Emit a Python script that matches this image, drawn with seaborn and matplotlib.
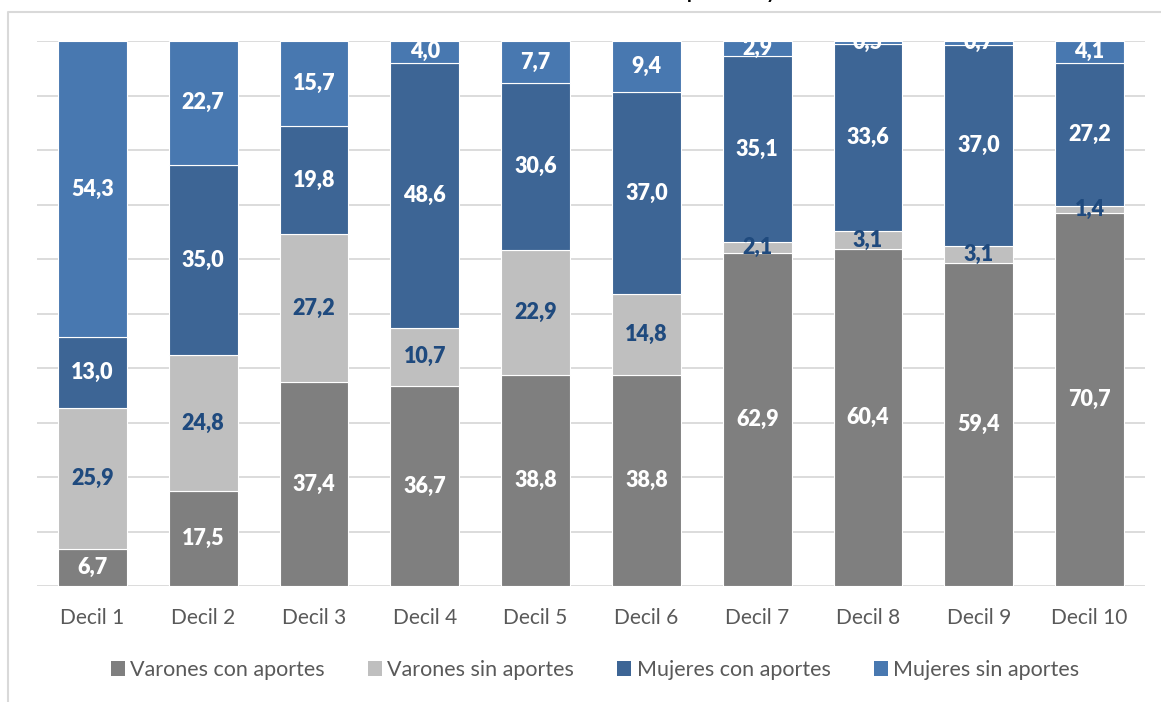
import pandas as pd
import matplotlib.pyplot as plt
import seaborn as sns
from matplotlib.patches import Patch
from matplotlib.lines import Line2D

# === Data ===
deciles = [f"Decil {i}" for i in range(1, 11)]
varones_con = [6.7, 17.5, 37.4, 36.7, 38.8, 38.8, 62.9, 60.4, 59.4, 70.7]
varones_sin = [25.9, 24.8, 27.2, 10.7, 22.9, 14.8, 2.1, 3.1, 3.1, 1.4]
mujeres_con = [13.0, 35.0, 19.8, 48.6, 30.6, 37.0, 35.1, 33.6, 37.0, 27.2]
mujeres_sin = [54.3, 22.7, 15.7, 4.0, 7.7, 9.4, 2.9, 0.5, 0.7, 4.1]

series_names = ["Varones con aportes", "Varones sin aportes",
                "Mujeres con aportes", "Mujeres sin aportes"]
colors = ["#7f7f7f", "#bfbfbf", "#3d6595", "#4878b0"]
label_colors = ["white", "#1f4a7e", "white", "white"]
title = "Distribución de asalariados en cada decil por sexo y condición"

df = pd.DataFrame({"decil": deciles,
                   series_names[0]: varones_con,
                   series_names[1]: varones_sin,
                   series_names[2]: mujeres_con,
                   series_names[3]: mujeres_sin})

# 100% stacked: normalise each decil to its total
totals = df[series_names].sum(axis=1)
shares = df[series_names].div(totals, axis=0)

sns.set_theme(style="white")
plt.rcParams["font.family"] = ["Lato", "DejaVu Sans"]

fig = plt.figure(figsize=(11.61, 7.02), dpi=100)
ax = fig.add_axes([37 / 1161, 1 - 586 / 702, 1108 / 1161, 545 / 702])

bottom = pd.Series(0.0, index=df.index)
for name, col, lcol in zip(series_names, colors, label_colors):
    sns.barplot(x=df["decil"], y=shares[name], bottom=bottom.values,
                color=col, width=0.62, edgecolor="white", linewidth=0.8,
                saturation=1, ax=ax, zorder=2)
    for i, v in enumerate(df[name]):
        yc = bottom[i] + shares[name][i] / 2
        ax.text(i, yc, f"{v:.1f}".replace(".", ","), ha="center", va="center",
                color=lcol, fontsize=15.5, fontweight="heavy", clip_on=True, zorder=3)
    bottom = bottom + shares[name]

ax.set_xlim(-0.5, 9.5)
ax.set_ylim(0, 1)
ax.set_yticks([i / 10 for i in range(11)])
ax.set_yticklabels([])
ax.tick_params(axis="y", length=0)
ax.tick_params(axis="x", length=0, pad=16, labelsize=15, labelcolor="#595959")
ax.yaxis.grid(True, color="#d9d9d9", linewidth=1.3, zorder=0)
ax.set_axisbelow(True)
ax.set_xlabel("")
ax.set_ylabel("")
for s in ax.spines.values():
    s.set_visible(False)

handles = [Patch(facecolor=c, edgecolor="none") for c in colors]
leg = fig.legend(handles, series_names, loc="center",
                 bbox_to_anchor=(595 / 1161, 1 - 670 / 702), ncol=4,
                 frameon=False, fontsize=15.5, handlelength=0.65, handleheight=0.65,
                 handletextpad=0.25, columnspacing=2.0)
for t in leg.get_texts():
    t.set_color("#595959")

# chart frame (continues past the right and bottom edges)
fx = 8 / 1161
fy = 1 - 11.5 / 702
fig.add_artist(Line2D([fx, fx, 1.0], [0.0, fy, fy], transform=fig.transFigure,
                      color="#d9d9d9", linewidth=1.5))

# title is mostly cut off above the picture, as in the source image
fig.text(598 / 1161, 1 + 1 / 702, title, ha="center", va="baseline",
         fontsize=14, fontweight="bold", color="black")

fig.savefig("out.png", dpi=100)
